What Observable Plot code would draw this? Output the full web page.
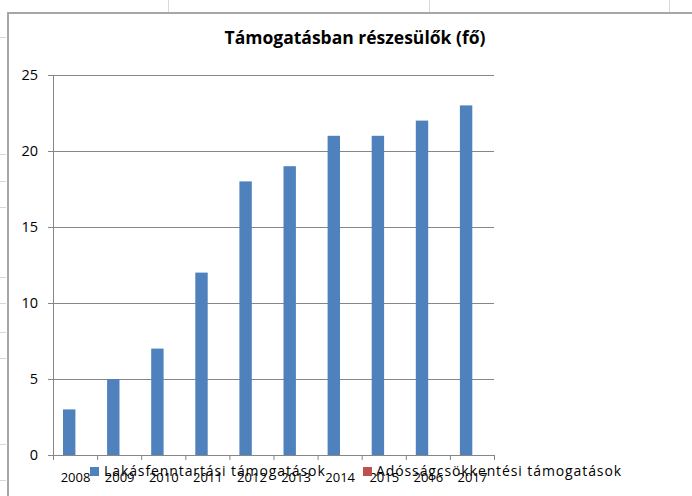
<!DOCTYPE html>
<html>
<head>
<meta charset="utf-8">
<script src="https://cdn.jsdelivr.net/npm/d3@7"></script>
<script src="https://cdn.jsdelivr.net/npm/@observablehq/plot@0.6"></script>
<style>
  html, body { margin: 0; padding: 0; background: #fff; }
  #wrap { position: relative; width: 692px; height: 496px; overflow: hidden; background: #fff; font-family: "Open Sans", sans-serif; }
  #frame { position: absolute; left: 7px; top: 12px; width: 700px; height: 500px; border-left: 2px solid #a6a6a6; border-top: 2px solid #a6a6a6; box-sizing: border-box; }
  .cellv { position: absolute; top: 0; width: 1px; height: 12px; background: #d9d9d9; }
  .cellh { position: absolute; left: 0; width: 6px; height: 1px; background: #d9d9d9; }
  #chart { position: absolute; left: 0; top: 0; }
  #title { position: absolute; top: 27px; left: 355px; transform: translateX(-50%); white-space: nowrap; font-weight: bold; font-size: 17.5px; line-height: 20px; color: #000; }
  .leg { position: absolute; top: 462px; font-size: 14px; line-height: 18px; white-space: nowrap; color: #000; letter-spacing: 0.9px; }
  .sw { position: absolute; width: 9px; height: 9px; top: 467px; }
</style>
</head>
<body>
<div id="wrap">
  <div class="cellv" style="left:168px"></div>
  <div class="cellv" style="left:429px"></div>
  <div class="cellv" style="left:669px"></div>
  <div class="cellh" style="top:37px"></div>
  <div class="cellh" style="top:154px"></div>
  <div class="cellh" style="top:181px"></div>
  <div class="cellh" style="top:207px"></div>
  <div class="cellh" style="top:277px"></div>
  <div class="cellh" style="top:303px"></div>
  <div class="cellh" style="top:332px"></div>
  <div class="cellh" style="top:358px"></div>
  <div class="cellh" style="top:444px"></div>
  <div class="cellh" style="top:480px"></div>
  <div id="frame"></div>
  <div id="chart"></div>
  <div id="title"></div>
  <div id="legend"></div>
</div>
<script>
const title = "Támogatásban részesülők (fő)";
const years = [2008, 2009, 2010, 2011, 2012, 2013, 2014, 2015, 2016, 2017];
const lakasfenntartasi = [3, 5, 7, 12, 18, 19, 21, 21, 22, 23];
const adossagcsokkentesi = [0, 0, 0, 0, 0, 0, 0, 0, 0, 0];
const seriesNames = ["Lakásfenntartási támogatások", "Adósságcsökkentési támogatások"];
const seriesColors = ["#4F81BD", "#C0504D"];
const yTicks = [0, 5, 10, 15, 20, 25];

const data = years.flatMap((year, i) => [
  {i, year, series: seriesNames[0], value: lakasfenntartasi[i]},
  {i, year, series: seriesNames[1], value: adossagcsokkentesi[i]}
]);

const axisColor = "#868686";

const chart = Plot.plot({
  width: 692,
  height: 496,
  marginLeft: 53,
  marginRight: 198,
  marginTop: 75,
  marginBottom: 41,
  style: {fontFamily: "'Open Sans', sans-serif", fontSize: "13px", background: "transparent", color: "#000"},
  x: {domain: [0, years.length], axis: null},
  y: {domain: [0, 25], axis: null},
  color: {domain: seriesNames, range: seriesColors},
  marks: [
    Plot.gridY(yTicks, {stroke: axisColor, strokeOpacity: 1}),
    Plot.axisY(yTicks, {label: null, tickSize: 5, tickPadding: 10.5, stroke: axisColor, fill: "#000", fontSize: 14.5, tickFormat: d => String(d)}),
    Plot.rectY(data.filter(d => d.series === seriesNames[0]), {x1: "i", x2: d => d.i + 1, y: "value", fill: "series", insetLeft: 10, insetRight: 21.7}),
    Plot.rectY(data.filter(d => d.series === seriesNames[1]), {x1: "i", x2: d => d.i + 1, y: "value", fill: "series", insetLeft: 22.4, insetRight: 9.3}),
    Plot.ruleX([0], {stroke: axisColor}),
    Plot.ruleY([0], {stroke: axisColor}),
    Plot.axisX(d3.range(years.length + 1), {label: null, tickSize: 5, tickFormat: () => "", stroke: axisColor}),
    Plot.axisX(years.map((y, i) => i + 0.5), {label: null, tickSize: 0, tickPadding: 17.5, fill: "#000", fontSize: 13, tickFormat: d => String(years[Math.floor(d)])})
  ]
});
document.getElementById("chart").appendChild(chart);
document.getElementById("title").textContent = title;

const legendPos = [{sw: 90, tx: 104}, {sw: 363, tx: 376}];
const legend = document.getElementById("legend");
seriesNames.forEach((name, k) => {
  const sw = document.createElement("div");
  sw.className = "sw";
  sw.style.left = legendPos[k].sw + "px";
  sw.style.background = seriesColors[k];
  legend.appendChild(sw);
  const t = document.createElement("div");
  t.className = "leg";
  t.style.left = legendPos[k].tx + "px";
  t.textContent = name;
  legend.appendChild(t);
});
</script>
</body>
</html>
